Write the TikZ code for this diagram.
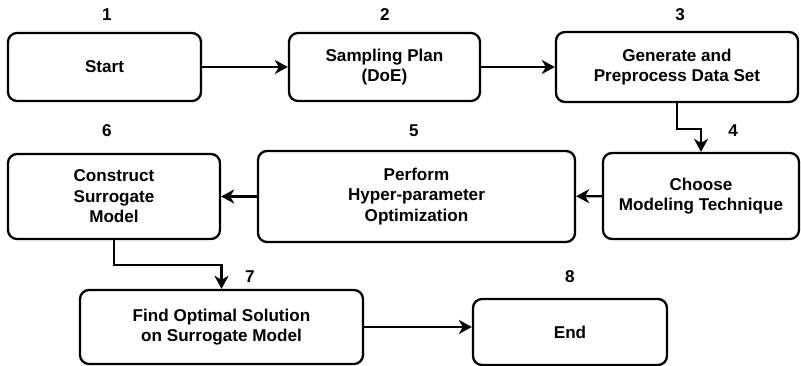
\documentclass[tikz,border=0pt]{standalone}
\usepackage{fontspec}
\setmainfont{Liberation Sans}
\usetikzlibrary{positioning,arrows.meta}

\tikzset{
  stepbox/.style={draw, line width=2.3pt, rounded corners=9pt, align=center, inner sep=2pt},
  flow/.style={line width=2.3pt, -{Stealth[length=13pt,width=14pt,inset=4pt]}},
}

\begin{document}
\begin{tikzpicture}[x=1pt, y=-1pt, font=\fontsize{17.1}{20.4}\selectfont\bfseries]
  \useasboundingbox (0,0) rectangle (801,366);

  % top row
  \node[stepbox, minimum width=193pt, minimum height=68pt] (start) at (104.5,67) {Start};
  \node[stepbox, minimum width=191pt, minimum height=68pt] (doe)   at (384.5,67) {Sampling Plan\\(DoE)};
  \node[stepbox, minimum width=242pt, minimum height=70pt] (data)  at (677,67)   {Generate and\\Preprocess Data Set};

  % middle row
  \node[stepbox, minimum width=196pt, minimum height=86pt] (tech)  at (701,196)  {Choose\\Modeling Technique};
  \node[stepbox, minimum width=317pt, minimum height=91pt] (hpo)   at (416.5,196.5) {Perform\\Hyper-parameter\\Optimization};
  \node[stepbox, minimum width=212pt, minimum height=85pt] (surr)  at (114,196.5) {Construct\\Surrogate\\Model};

  % bottom row
  \node[stepbox, minimum width=283pt, minimum height=74pt] (opt)   at (221.5,327) {Find Optimal Solution\\on Surrogate Model};
  \node[stepbox, minimum width=194pt, minimum height=66pt] (fin)   at (570,332)   {End};

  % step numbers
  \foreach \n/\x/\y in {1/107/15, 2/385/15, 3/680/15, 4/733/131,
                        5/414/131, 6/107/131, 7/250/277, 8/570/277}
    \node (n\n) at (\x,\y) {\n};

  % connectors
  \draw[flow] (start) -- (doe);
  \draw[flow] (doe) -- (data);
  \draw[flow] (data.south) -- ++(0,26) -| (tech.north);
  \draw[flow] (tech) -- (hpo);
  \draw[flow] (hpo) -- (surr);
  \draw[flow] (surr.south) -- ++(0,25) -| (opt.north);
  \draw[flow] (opt.east) -- (opt.east -| fin.west);
\end{tikzpicture}
\end{document}
